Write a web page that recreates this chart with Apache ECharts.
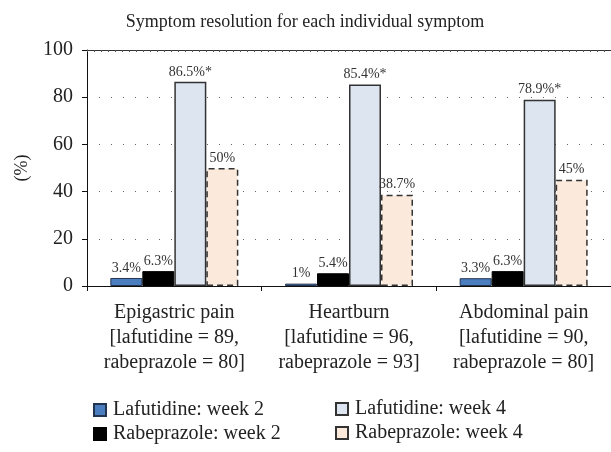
<!DOCTYPE html>
<html>
<head>
<meta charset="utf-8">
<script src="https://cdn.jsdelivr.net/npm/echarts@6/dist/echarts.min.js"></script>
<style>
  html, body { margin: 0; padding: 0; background: #fff; }
  #chart { width: 611px; height: 452px; }
</style>
</head>
<body>
<div id="chart"></div>
<script>
const categories = [
  "Epigastric pain\n[lafutidine = 89,\nrabeprazole = 80]",
  "Heartburn\n[lafutidine = 96,\nrabeprazole = 93]",
  "Abdominal pain\n[lafutidine = 90,\nrabeprazole = 80]",
];
const lafWeek2 = [3.4, 1, 3.3];
const rabWeek2 = [6.3, 5.4, 6.3];
const lafWeek4 = [86.5, 85.4, 78.9];
const rabWeek4 = [50, 38.7, 45];
const lafWeek4Marks = ["*", "*", "*"];
const yTicks = [0, 20, 40, 60, 80, 100];

const serif = "'Liberation Serif', 'DejaVu Serif', serif";
const chart = echarts.init(document.getElementById("chart"));

const barLabel = (suffixes) => ({
  show: true,
  position: "top",
  distance: 3,
  fontFamily: serif,
  fontSize: 14,
  color: "#333",
  formatter: (p) => p.value + "%" + (suffixes ? suffixes[p.dataIndex] : ""),
});

const legendText = { fontFamily: serif, fontSize: 20, color: "#222", padding: [0, 0, 0, 2] };

chart.setOption({
  animation: false,
  title: {
    text: "Symptom resolution for each individual symptom",
    left: 300,
    textAlign: "center",
    top: 8,
    textStyle: { fontFamily: serif, fontSize: 18, fontWeight: "normal", color: "#222" },
  },
  legend: [
    {
      data: ["Lafutidine: week 2", "Rabeprazole: week 2"],
      orient: "vertical",
      left: 88,
      top: 395,
      icon: "rect",
      itemWidth: 12,
      itemHeight: 12,
      itemGap: 4,
      textStyle: legendText,
    },
    {
      data: ["Lafutidine: week 4", "Rabeprazole: week 4"],
      orient: "vertical",
      left: 330,
      top: 394,
      icon: "rect",
      itemWidth: 12,
      itemHeight: 12,
      itemGap: 4,
      textStyle: legendText,
    },
  ],
  grid: { left: 87, right: -1, top: 50, bottom: 166, containLabel: false },
  xAxis: [
    {
      type: "category",
      data: categories,
      axisLine: { lineStyle: { color: "#111", width: 1 } },
      axisTick: { show: true, length: 5, lineStyle: { color: "#111" } },
      axisLabel: {
        interval: 0,
        hideOverlap: false,
        fontFamily: serif,
        fontSize: 20,
        color: "#222",
        lineHeight: 25,
        margin: 14,
      },
    },
    {
      type: "value",
      position: "top",
      min: 0,
      max: 75,
      interval: 1,
      axisLine: { show: true, lineStyle: { color: "#333", width: 1 } },
      axisTick: { show: true, inside: true, length: 2, lineStyle: { color: "#555" } },
      axisLabel: { show: false },
      splitLine: { show: false },
    },
  ],
  yAxis: {
    type: "value",
    min: yTicks[0],
    max: yTicks[yTicks.length - 1],
    interval: 20,
    name: "(%)",
    nameLocation: "middle",
    nameGap: 56,
    nameRotate: 90,
    nameTextStyle: { fontFamily: serif, fontSize: 18, color: "#222" },
    axisLine: { show: true, lineStyle: { color: "#111" } },
    axisTick: { show: true, length: 5, lineStyle: { color: "#111" } },
    axisLabel: { fontFamily: serif, fontSize: 20, color: "#222", margin: 14 },
    splitLine: {
      show: true,
      lineStyle: { color: "#666", type: [1, 11], width: 1 },
    },
  },
  series: [
    {
      name: "Lafutidine: week 2",
      type: "bar",
      data: lafWeek2,
      barWidth: 32,
      barGap: "0%",
      itemStyle: { color: "#4a7ebf", borderColor: "#22344f", borderWidth: 1 },
      label: barLabel(null),
    },
    {
      name: "Rabeprazole: week 2",
      type: "bar",
      data: rabWeek2,
      barWidth: 32,
      barGap: "0%",
      itemStyle: { color: "#000", borderColor: "#000", borderWidth: 1 },
      label: barLabel(null),
    },
    {
      name: "Lafutidine: week 4",
      type: "bar",
      data: lafWeek4,
      barWidth: 32,
      barGap: "0%",
      itemStyle: { color: "#dde5f1", borderColor: "#333", borderWidth: 1.5 },
      label: barLabel(lafWeek4Marks),
    },
    {
      name: "Rabeprazole: week 4",
      type: "bar",
      data: rabWeek4,
      barWidth: 32,
      barGap: "0%",
      itemStyle: {
        color: "#fbeadb",
        borderColor: "#333",
        borderWidth: 1.5,
        borderType: [6, 4],
      },
      label: barLabel(null),
    },
  ],
});
</script>
</body>
</html>
